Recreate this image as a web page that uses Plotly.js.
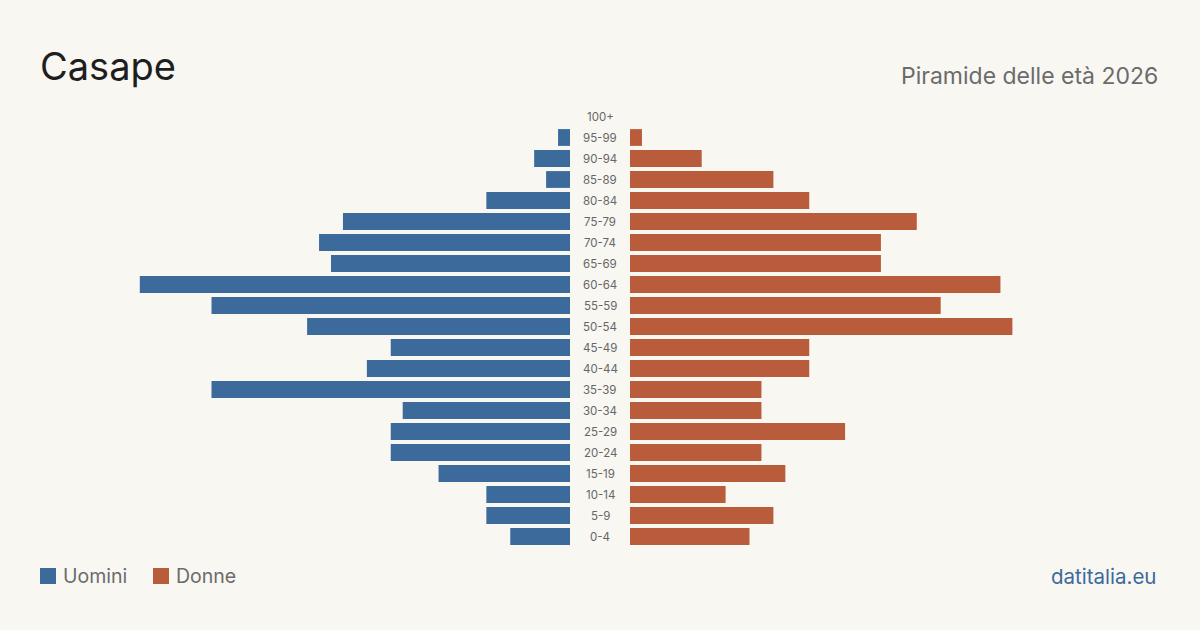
<!DOCTYPE html>
<html>
<head>
<meta charset="utf-8">
<script src="https://cdn.plot.ly/plotly-3.0.1.min.js"></script>
<style>
  html, body { margin: 0; padding: 0; background: #f9f7f2; }
  #chart { width: 1200px; height: 630px; }
</style>
</head>
<body>
<div id="chart"></div>
<script>
// Age classes, youngest first
const ageGroups = ["0-4","5-9","10-14","15-19","20-24","25-29","30-34","35-39","40-44","45-49",
                   "50-54","55-59","60-64","65-69","70-74","75-79","80-84","85-89","90-94","95-99","100+"];
// Residents by age class
const men   = [5, 7, 7, 11, 15, 15, 14, 30, 17, 15, 22, 30, 36, 20, 21, 19, 7, 2, 3, 1, 0];
const women = [10, 12, 8, 13, 11, 18, 11, 11, 15, 15, 32, 26, 31, 21, 21, 24, 15, 12, 6, 1, 0];

const blue = "#3b6a9b";
const rust = "#b95c3c";
const bg = "#f9f7f2";
const font = "Inter, 'Noto Sans', sans-serif";
const maxVal = 47.7;

const W = 1200, H = 630, marginTop = 106, marginBottom = 83;
const plotH = H - marginTop - marginBottom;
// pixel helpers for elements placed in paper coordinates
const px = v => v / W;
const py = v => (H - marginBottom - v) / plotH;

const traces = [
  { type: "bar", orientation: "h", y: ageGroups, x: men, xaxis: "x", yaxis: "y",
    marker: { color: blue }, hoverinfo: "x+y", name: "Uomini" },
  { type: "bar", orientation: "h", y: ageGroups, x: women, xaxis: "x2", yaxis: "y",
    marker: { color: rust }, hoverinfo: "x+y", name: "Donne" }
];

const annotations = ageGroups.map(g => ({
  xref: "paper", yref: "y", x: 0.5, y: g, text: g, showarrow: false,
  xanchor: "center", yanchor: "middle",
  font: { family: font, size: 11.5, color: "#666666" }
}));

annotations.push(
  { xref: "paper", yref: "paper", x: px(37.5), y: py(66), text: "Casape", showarrow: false,
    xanchor: "left", yanchor: "middle", font: { family: font, size: 38, color: "#1e1e1e" } },
  { xref: "paper", yref: "paper", x: px(1160), y: py(76), text: "Piramide delle età 2026", showarrow: false,
    xanchor: "right", yanchor: "middle", font: { family: font, size: 23, color: "#6b6b6b" } },
  { xref: "paper", yref: "paper", x: px(61), y: py(576), text: "Uomini", showarrow: false,
    xanchor: "left", yanchor: "middle", font: { family: font, size: 19.5, color: "#6b6b6b" } },
  { xref: "paper", yref: "paper", x: px(174), y: py(576), text: "Donne", showarrow: false,
    xanchor: "left", yanchor: "middle", font: { family: font, size: 19.5, color: "#6b6b6b" } },
  { xref: "paper", yref: "paper", x: px(1158), y: py(576), text: "datitalia.eu", showarrow: false,
    xanchor: "right", yanchor: "middle", font: { family: font, size: 20.5, color: "#3b6a9b" } }
);

const shapes = [
  { type: "rect", xref: "paper", yref: "paper", x0: px(40), x1: px(56), y0: py(584), y1: py(568),
    fillcolor: blue, line: { width: 0 } },
  { type: "rect", xref: "paper", yref: "paper", x0: px(153), x1: px(169), y0: py(584), y1: py(568),
    fillcolor: rust, line: { width: 0 } }
];

const layout = {
  width: W, height: H,
  paper_bgcolor: bg, plot_bgcolor: bg,
  margin: { l: 0, r: 0, t: marginTop, b: marginBottom },
  showlegend: false,
  bargap: 0.2,
  xaxis: { domain: [0, 570/1200], range: [maxVal, 0], visible: false, fixedrange: true },
  xaxis2: { domain: [630/1200, 1], range: [0, maxVal], visible: false, fixedrange: true },
  yaxis: { type: "category", categoryorder: "array", categoryarray: ageGroups,
           range: [-0.5, 20.5], visible: false, fixedrange: true },
  annotations: annotations,
  shapes: shapes
};

Plotly.newPlot("chart", traces, layout, { displayModeBar: false, staticPlot: true });
</script>
</body>
</html>
